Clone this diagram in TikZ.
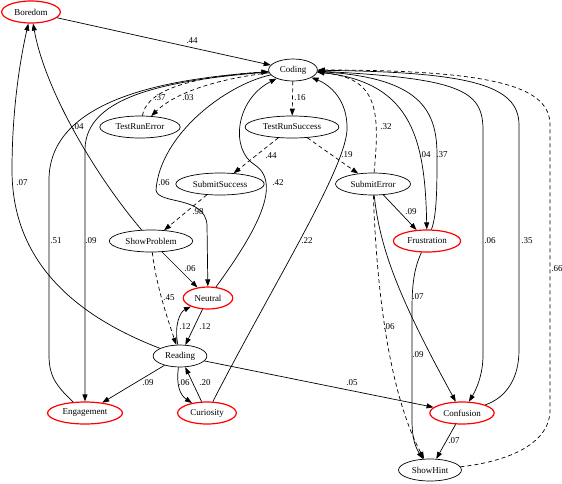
\documentclass[tikz,border=0pt]{standalone}
\usepackage{fontspec}
\setmainfont{Liberation Serif}
\usetikzlibrary{shapes.geometric,arrows.meta}

\begin{document}
\begin{tikzpicture}[x=1pt,y=1pt,font=\fontsize{9}{10}\selectfont,
  state/.style={ellipse,draw,line width=0.7pt,minimum height=22pt,inner xsep=4pt,inner ysep=1pt},
  emo/.style={state,draw=red,line width=1.2pt},
  trans/.style={-{Triangle[length=7pt,width=5pt]},line width=0.7pt},
  soft/.style={trans,dash pattern=on 4pt off 3pt},
  lbl/.style={inner sep=0pt}]
  \useasboundingbox (0,0) rectangle (562,-483);

  \node[emo] (Boredom) at (31,-12) {Boredom};
  \node[state] (Coding) at (293,-70) {Coding};
  \node[state] (TestRunError) at (140,-127) {TestRunError};
  \node[state] (TestRunSuccess) at (292,-127) {TestRunSuccess};
  \node[state] (SubmitSuccess) at (220,-184) {SubmitSuccess};
  \node[state] (SubmitError) at (373,-184) {SubmitError};
  \node[state] (ShowProblem) at (151,-241) {ShowProblem};
  \node[emo] (Frustration) at (427,-241) {Frustration};
  \node[emo] (Neutral) at (208,-298) {Neutral};
  \node[state] (Reading) at (180,-356) {Reading};
  \node[emo] (Engagement) at (85,-413) {Engagement};
  \node[emo] (Curiosity) at (207,-413) {Curiosity};
  \node[emo] (Confusion) at (462,-413) {Confusion};
  \node[state] (ShowHint) at (430,-470) {ShowHint};

  \draw[trans] (Boredom) -- (Coding) node[lbl] at (192,-41) {.44};
  \draw[soft] (TestRunError.78) .. controls (146,-95) and (175,-78) .. (Coding) node[lbl] at (160,-98) {.37};
  \draw[soft] (Coding) .. controls (225,-78) and (178,-90) .. (TestRunError) node[lbl] at (188,-98) {.03};
  \draw[soft] (Coding) -- (TestRunSuccess) node[lbl] at (300,-98) {.16};
  \draw[soft] (TestRunSuccess) -- (SubmitSuccess) node[lbl] at (271,-156) {.44};
  \draw[soft] (TestRunSuccess) -- (SubmitError) node[lbl] at (347,-155) {.19};
  \draw[soft] (SubmitSuccess) -- (ShowProblem) node[lbl] at (198,-212) {.98};
  \draw[soft] (SubmitError) .. controls (380,-110) and (378,-78) .. (Coding) node[lbl] at (386,-127) {.32};
  \draw[trans] (SubmitError) -- (Frustration) node[lbl] at (411,-212) {.09};
  \draw[trans] (Coding) .. controls (410,-80) and (425,-135) .. (Frustration) node[lbl] at (425,-155) {.04};
  \draw[trans] (Frustration) .. controls (437,-215) and (437,-185) .. (437,-155)
    .. controls (437,-110) and (420,-78) .. (Coding) node[lbl] at (442,-155) {.37};
  \draw[trans] (SubmitError) .. controls (380,-250) and (400,-300) .. (Confusion) node[lbl] at (418,-297) {.07};
  \draw[soft] (SubmitError) .. controls (378,-330) and (398,-410) .. (ShowHint) node[lbl] at (389,-327) {.06};
  \draw[trans] (Frustration) .. controls (413,-270) and (412,-290) .. (412,-310) -- (412,-420)
    .. controls (412,-440) and (416,-448) .. (ShowHint) node[lbl] at (418,-355) {.09};
  \draw[trans] (Coding) .. controls (460,-78) and (483,-90) .. (483,-130) -- (483,-355)
    .. controls (483,-375) and (476,-390) .. (Confusion) node[lbl] at (490,-241) {.06};
  \draw[trans] (Confusion) .. controls (505,-398) and (519,-380) .. (519,-350) -- (519,-125)
    .. controls (519,-85) and (470,-72) .. (Coding) node[lbl] at (527,-241) {.35};
  \draw[soft] (ShowHint) .. controls (505,-462) and (550,-445) .. (550,-410) -- (550,-125)
    .. controls (550,-88) and (500,-70) .. (Coding) node[lbl] at (557,-269) {.66};
  \draw[trans] (Confusion) -- (ShowHint) node[lbl] at (454,-441) {.07};
  \draw[trans] (Reading) -- (Confusion) node[lbl] at (352,-383) {.05};
  \draw[trans] (Reading) -- (Engagement) node[lbl] at (148,-383) {.09};
  \draw[trans] (Reading) .. controls (176,-385) and (180,-395) .. (Curiosity) node[lbl] at (184,-383) {.06};
  \draw[trans] (Curiosity) -- (Reading) node[lbl] at (205,-383) {.20};
  \draw[trans] (Curiosity) .. controls (270,-290) and (345,-170) .. (347,-130)
    .. controls (348,-100) and (330,-85) .. (Coding) node[lbl] at (307,-241) {.22};
  \draw[trans] (Neutral) -- (Reading) node[lbl] at (205,-327) {.12};
  \draw[trans] (Reading) .. controls (174,-325) and (180,-312) .. (Neutral) node[lbl] at (185,-327) {.12};
  \draw[soft] (ShowProblem) .. controls (156,-285) and (168,-320) .. (Reading) node[lbl] at (169,-298) {.45};
  \draw[trans] (ShowProblem) -- (Neutral) node[lbl] at (190,-269) {.06};
  \draw[trans] (Neutral) .. controls (250,-240) and (285,-185) .. (255,-165)
    .. controls (230,-150) and (235,-100) .. (Coding) node[lbl] at (278,-183) {.42};
  \draw[trans] (Coding) .. controls (225,-85) and (160,-135) .. (156,-190)
    .. controls (158,-205) and (205,-195) .. (207,-225) -- (Neutral) node[lbl] at (164,-183) {.06};
  \draw[trans] (ShowProblem) .. controls (95,-175) and (45,-90) .. (Boredom) node[lbl] at (78,-127) {.04};
  \draw[trans] (Reading) .. controls (60,-310) and (12,-250) .. (12,-170)
    .. controls (12,-110) and (20,-60) .. (Boredom) node[lbl] at (22,-183) {.07};
  \draw[trans] (Engagement) .. controls (55,-385) and (49,-375) .. (49,-355) -- (49,-180)
    .. controls (49,-95) and (180,-78) .. (Coding) node[lbl] at (56,-241) {.51};
  \draw[trans] (Coding) .. controls (170,-80) and (85,-95) .. (85,-150) -- (Engagement) node[lbl] at (91,-241) {.09};
\end{tikzpicture}
\end{document}
